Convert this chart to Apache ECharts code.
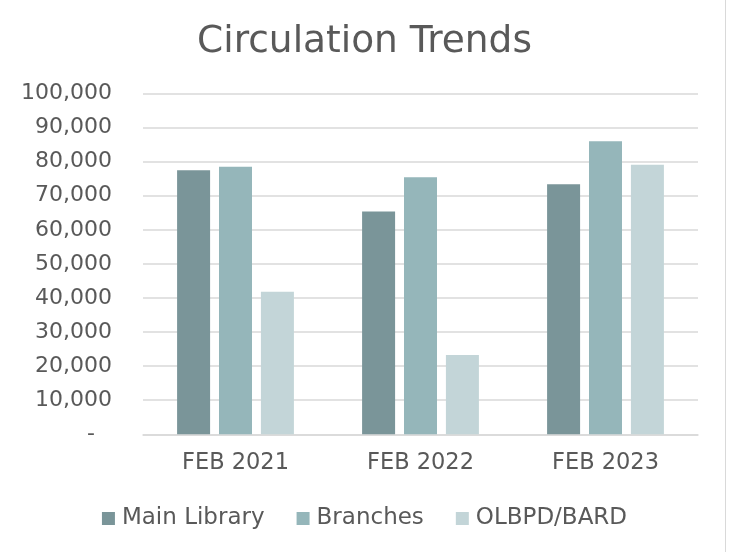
<!DOCTYPE html>
<html>
<head>
<meta charset="utf-8">
<script src="https://cdn.jsdelivr.net/npm/echarts@6/dist/echarts.min.js"></script>
<style>
html,body{margin:0;padding:0;background:#fff;}
#chart{width:729px;height:552px;}
</style>
</head>
<body>
<div id="chart"></div>
<script>
const categories = ['FEB 2021', 'FEB 2022', 'FEB 2023'];
const mainLibrary = [77500, 65400, 73400];
const branches = [78500, 75400, 86000];
const olbpdBard = [41800, 23300, 79100];
const seriesNames = ['Main Library', 'Branches', 'OLBPD/BARD'];
const colors = ['#7A9599', '#95B6BA', '#C3D5D8'];

const font = 'DejaVu Sans';
const textColor = '#595959';

const chart = echarts.init(document.getElementById('chart'), null, {renderer: 'canvas'});
const mk = (name, data, color) => ({
  name: name,
  type: 'bar',
  data: data,
  barWidth: 33,
  barGap: '27%',
  itemStyle: {color: color},
  emphasis: {disabled: true}
});
chart.setOption({
  backgroundColor: '#ffffff',
  animation: false,
  title: {
    text: 'Circulation Trends',
    left: 'center',
    top: 18,
    textStyle: {fontFamily: font, fontSize: 37.5, fontWeight: 'normal', color: textColor}
  },
  legend: {
    bottom: 17,
    left: 'center',
    icon: 'rect',
    itemWidth: 13,
    itemHeight: 13,
    itemGap: 32,
    textStyle: {fontFamily: font, fontSize: 23, color: textColor, padding: [0, 0, 0, 2]},
    data: seriesNames
  },
  grid: {left: 143, right: 31, top: 93.5, bottom: 117.7, containLabel: false},
  xAxis: {
    type: 'category',
    data: categories,
    axisLine: {lineStyle: {color: '#D9D9D9', width: 1.5}},
    axisTick: {show: false},
    axisLabel: {fontFamily: font, fontSize: 22.5, color: textColor, margin: 17}
  },
  yAxis: {
    type: 'value',
    min: 0,
    max: 100000,
    interval: 10000,
    axisLine: {show: false},
    axisTick: {show: false},
    splitLine: {lineStyle: {color: '#D9D9D9', width: 1.5}},
    axisLabel: {
      fontFamily: font, fontSize: 22, color: textColor, margin: 31,
      formatter: v => v === 0 ? '{d|-}' : v.toLocaleString('en-US'),
      rich: {d: {fontFamily: font, fontSize: 22, color: textColor, padding: [0, 17, 0, 0]}}
    }
  },
  graphic: [{
    type: 'line',
    shape: {x1: 725.5, y1: 0, x2: 725.5, y2: 552},
    style: {stroke: '#D9D9D9', lineWidth: 1}
  }],
  series: [
    mk(seriesNames[0], mainLibrary, colors[0]),
    mk(seriesNames[1], branches, colors[1]),
    mk(seriesNames[2], olbpdBard, colors[2])
  ]
});
</script>
</body>
</html>
